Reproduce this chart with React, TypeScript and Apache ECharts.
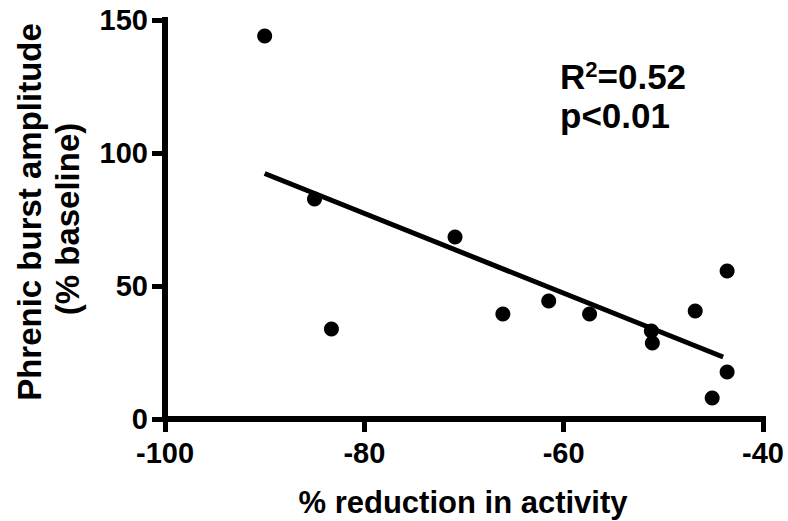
import React, { useEffect, useRef } from "react";
import * as echarts from "echarts";

const xValues = [-90.0, -85.0, -83.3, -70.9, -66.1, -61.5, -57.4, -51.2, -51.1, -46.8, -43.6, -43.6, -45.1];
const yValues = [144.0, 82.7, 33.8, 68.4, 39.5, 44.4, 39.5, 33.1, 28.6, 40.6, 55.6, 17.7, 7.9];
const fitX = [-90.0, -44.0];
const fitY = [92.3, 23.3];
const xTicks = { min: -100, max: -40, interval: 20 };
const yTicks = { min: 0, max: 150, interval: 50 };
const xTitle = "% reduction in activity";
const yTitle1 = "Phrenic burst amplitude";
const yTitle2 = "(% baseline)";
const statR = "0.52";
const statP = "p<0.01";

const FONT = "'Liberation Sans', Arial, Helvetica, sans-serif";

export default function App() {
  const ref = useRef<HTMLDivElement>(null);
  useEffect(() => {
    if (!ref.current) return;
    const chart = echarts.init(ref.current, null, { renderer: "svg" });
    const axisCommon = {
      axisLine: { show: true, onZero: false, lineStyle: { color: "#000", width: 6, cap: "square" } },
      axisTick: { show: true, inside: false, length: 13, lineStyle: { color: "#000", width: 5 } },
      splitLine: { show: false },
    };
    chart.setOption({
      animation: false,
      backgroundColor: "#fff",
      grid: { left: 165, right: 25, top: 20, bottom: 102 },
      xAxis: {
        type: "value",
        min: xTicks.min,
        max: xTicks.max,
        interval: xTicks.interval,
        ...axisCommon,
        axisLabel: { color: "#000", fontSize: 29, fontWeight: "bold", fontFamily: FONT, margin: 19 },
      },
      yAxis: {
        type: "value",
        min: yTicks.min,
        max: yTicks.max,
        interval: yTicks.interval,
        ...axisCommon,
        axisLabel: { color: "#000", fontSize: 29, fontWeight: "bold", fontFamily: FONT, margin: 17 },
      },
      series: [
        {
          type: "scatter",
          data: xValues.map((x, i) => [x, yValues[i]]),
          symbol: "circle",
          symbolSize: 15,
          itemStyle: { color: "#000", opacity: 1 },
          z: 3,
        },
        {
          type: "line",
          data: fitX.map((x, i) => [x, fitY[i]]),
          symbol: "none",
          lineStyle: { color: "#000", width: 5 },
          z: 2,
        },
      ],
      graphic: [
        {
          type: "text",
          x: 463,
          y: 502,
          style: {
            text: xTitle,
            fill: "#000",
            font: `bold 31px ${FONT}`,
            textAlign: "center",
            textVerticalAlign: "middle",
          },
        },
        {
          type: "text",
          x: 29,
          y: 212,
          rotation: Math.PI / 2,
          style: {
            text: yTitle1,
            fill: "#000",
            font: `bold 33px ${FONT}`,
            textAlign: "center",
            textVerticalAlign: "middle",
          },
        },
        {
          type: "text",
          x: 67,
          y: 219,
          rotation: Math.PI / 2,
          style: {
            text: yTitle2,
            fill: "#000",
            font: `bold 33px ${FONT}`,
            textAlign: "center",
            textVerticalAlign: "middle",
          },
        },
        {
          type: "text",
          x: 560,
          y: 76,
          style: {
            text: `{a|R}{b|2}{a|=${statR}}`,
            fill: "#000",
            textAlign: "left",
            textVerticalAlign: "middle",
            rich: {
              a: { fontSize: 35, fontWeight: "bold", fontFamily: FONT, fill: "#000", lineHeight: 35 },
              b: { fontSize: 22, fontWeight: "bold", fontFamily: FONT, fill: "#000", lineHeight: 35, verticalAlign: "top", padding: [0, 0, 10, 0] },
            },
          },
        },
        {
          type: "text",
          x: 560,
          y: 115,
          style: {
            text: statP,
            fill: "#000",
            font: `bold 35px ${FONT}`,
            textAlign: "left",
            textVerticalAlign: "middle",
          },
        },
      ],
    });
    return () => chart.dispose();
  }, []);
  return (
    <div
      ref={ref}
      style={{ position: "fixed", left: 0, top: 0, width: 788, height: 521, background: "#fff" }}
    />
  );
}
